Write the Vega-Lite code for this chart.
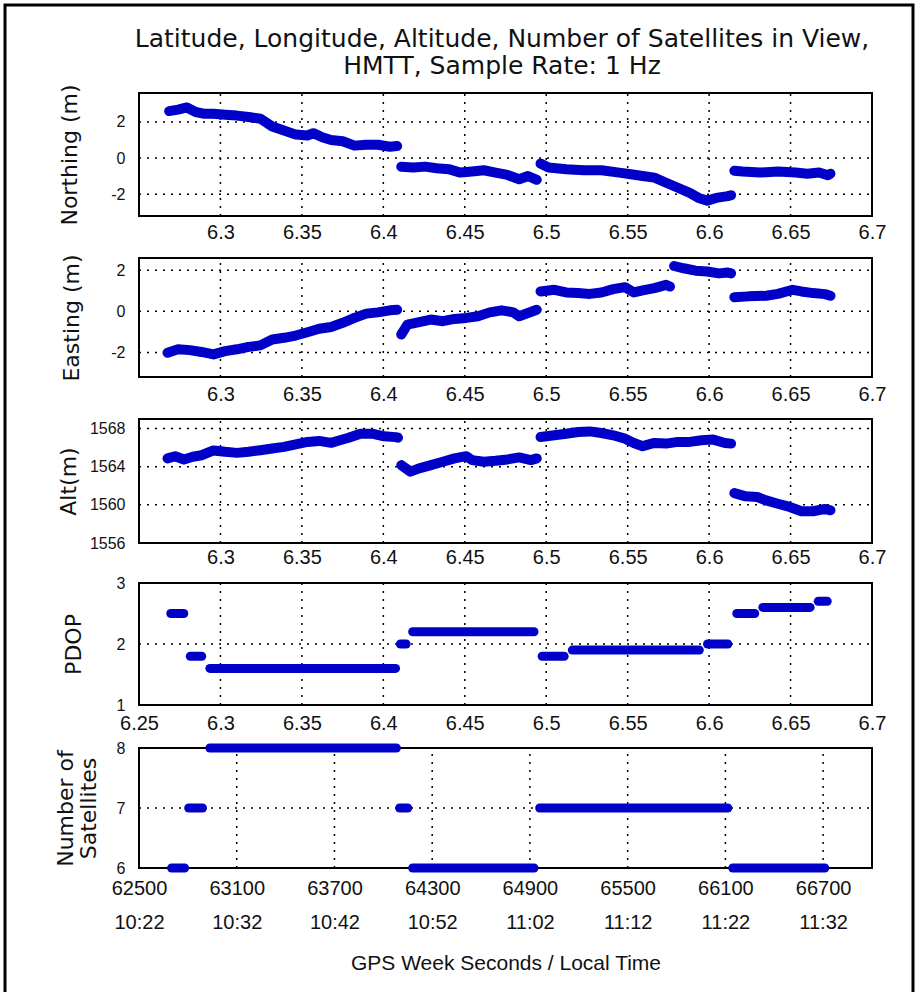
{
  "$schema": "https://vega.github.io/schema/vega-lite/v6.json",
  "width": 908,
  "height": 987,
  "padding": {"left": 5, "top": 5, "right": 6, "bottom": 0},
  "autosize": {"type": "none"},
  "background": "#ffffff",
  "title": {
    "text": ["Latitude, Longitude, Altitude, Number of Satellites in View,", "HMTT, Sample Rate: 1 Hz"],
    "orient": "top", "anchor": "middle", "frame": "group", "offset": -99, "baseline": "bottom", "dx": 43,
    "font": "DejaVu Sans", "fontSize": 25, "fontWeight": "normal", "color": "#111", "lineHeight": 27
  },
  "config": {
    "view": {"stroke": "#000", "strokeWidth": 3, "strokeDash": [1895, 908, 987]},
    "axis": {
      "ticks": false, "tickSize": 0, "domain": false, "grid": false,
      "labelFlush": false, "labelOverlap": false, "labelBound": false,
      "labelColor": "#111", "titleColor": "#111", "titleFontWeight": "normal"
    },
    "axisX": {"labelFont": "Liberation Sans", "labelFontSize": 20, "titleFont": "Liberation Sans", "titleFontSize": 21},
    "axisY": {"labelFont": "Liberation Sans", "labelFontSize": 16, "labelPadding": 14, "titleFont": "DejaVu Sans", "titleFontSize": 22, "titleBaseline": "alphabetic", "titleAlign": "center"}
  },
  "datasets": {
    "frames": [
      {"plot": "north", "t": 62500, "t2": 67000, "v": -3.2, "v2": 3.6},
      {"plot": "east", "t": 62500, "t2": 67000, "v": -3.2, "v2": 2.6},
      {"plot": "alt", "t": 62500, "t2": 67000, "v": 1556, "v2": 1569},
      {"plot": "pdop", "t": 62500, "t2": 67000, "v": 1, "v2": 3},
      {"plot": "sats", "t": 62500, "t2": 67000, "v": 6, "v2": 8}
    ],
    "vgrid": [
      {"plot": "north", "t": 63000, "v": -3.2, "v2": 3.6}, {"plot": "north", "t": 63500, "v": -3.2, "v2": 3.6},
      {"plot": "north", "t": 64000, "v": -3.2, "v2": 3.6}, {"plot": "north", "t": 64500, "v": -3.2, "v2": 3.6},
      {"plot": "north", "t": 65000, "v": -3.2, "v2": 3.6}, {"plot": "north", "t": 65500, "v": -3.2, "v2": 3.6},
      {"plot": "north", "t": 66000, "v": -3.2, "v2": 3.6}, {"plot": "north", "t": 66500, "v": -3.2, "v2": 3.6},
      {"plot": "east", "t": 63000, "v": -3.2, "v2": 2.6}, {"plot": "east", "t": 63500, "v": -3.2, "v2": 2.6},
      {"plot": "east", "t": 64000, "v": -3.2, "v2": 2.6}, {"plot": "east", "t": 64500, "v": -3.2, "v2": 2.6},
      {"plot": "east", "t": 65000, "v": -3.2, "v2": 2.6}, {"plot": "east", "t": 65500, "v": -3.2, "v2": 2.6},
      {"plot": "east", "t": 66000, "v": -3.2, "v2": 2.6}, {"plot": "east", "t": 66500, "v": -3.2, "v2": 2.6},
      {"plot": "alt", "t": 63000, "v": 1556, "v2": 1569}, {"plot": "alt", "t": 63500, "v": 1556, "v2": 1569},
      {"plot": "alt", "t": 64000, "v": 1556, "v2": 1569}, {"plot": "alt", "t": 64500, "v": 1556, "v2": 1569},
      {"plot": "alt", "t": 65000, "v": 1556, "v2": 1569}, {"plot": "alt", "t": 65500, "v": 1556, "v2": 1569},
      {"plot": "alt", "t": 66000, "v": 1556, "v2": 1569}, {"plot": "alt", "t": 66500, "v": 1556, "v2": 1569},
      {"plot": "pdop", "t": 63000, "v": 1, "v2": 3}, {"plot": "pdop", "t": 63500, "v": 1, "v2": 3},
      {"plot": "pdop", "t": 64000, "v": 1, "v2": 3}, {"plot": "pdop", "t": 64500, "v": 1, "v2": 3},
      {"plot": "pdop", "t": 65000, "v": 1, "v2": 3}, {"plot": "pdop", "t": 65500, "v": 1, "v2": 3},
      {"plot": "pdop", "t": 66000, "v": 1, "v2": 3}, {"plot": "pdop", "t": 66500, "v": 1, "v2": 3},
      {"plot": "sats", "t": 63100, "v": 6, "v2": 8}, {"plot": "sats", "t": 63700, "v": 6, "v2": 8},
      {"plot": "sats", "t": 64300, "v": 6, "v2": 8}, {"plot": "sats", "t": 64900, "v": 6, "v2": 8},
      {"plot": "sats", "t": 65500, "v": 6, "v2": 8}, {"plot": "sats", "t": 66100, "v": 6, "v2": 8},
      {"plot": "sats", "t": 66700, "v": 6, "v2": 8}
    ],
    "hgrid": [
      {"plot": "north", "t": 62500, "t2": 67000, "v": -2}, {"plot": "north", "t": 62500, "t2": 67000, "v": 0},
      {"plot": "north", "t": 62500, "t2": 67000, "v": 2},
      {"plot": "east", "t": 62500, "t2": 67000, "v": -2}, {"plot": "east", "t": 62500, "t2": 67000, "v": 0},
      {"plot": "east", "t": 62500, "t2": 67000, "v": 2},
      {"plot": "alt", "t": 62500, "t2": 67000, "v": 1560}, {"plot": "alt", "t": 62500, "t2": 67000, "v": 1564},
      {"plot": "alt", "t": 62500, "t2": 67000, "v": 1568},
      {"plot": "pdop", "t": 62500, "t2": 67000, "v": 2},
      {"plot": "sats", "t": 62500, "t2": 67000, "v": 7}
    ],
    "north": [
      {"seg": "A", "t": 62685, "v": 2.6}, {"seg": "A", "t": 62740, "v": 2.68}, {"seg": "A", "t": 62794, "v": 2.8},
      {"seg": "A", "t": 62848, "v": 2.55}, {"seg": "A", "t": 62903, "v": 2.45}, {"seg": "A", "t": 62957, "v": 2.45},
      {"seg": "A", "t": 63029, "v": 2.4}, {"seg": "A", "t": 63101, "v": 2.35}, {"seg": "A", "t": 63173, "v": 2.27},
      {"seg": "A", "t": 63245, "v": 2.18}, {"seg": "A", "t": 63318, "v": 1.75}, {"seg": "A", "t": 63390, "v": 1.53},
      {"seg": "A", "t": 63462, "v": 1.3}, {"seg": "A", "t": 63534, "v": 1.25}, {"seg": "A", "t": 63570, "v": 1.38},
      {"seg": "A", "t": 63625, "v": 1.15}, {"seg": "A", "t": 63679, "v": 1.0}, {"seg": "A", "t": 63751, "v": 0.93},
      {"seg": "A", "t": 63823, "v": 0.69}, {"seg": "A", "t": 63895, "v": 0.74}, {"seg": "A", "t": 63967, "v": 0.74},
      {"seg": "A", "t": 64040, "v": 0.63}, {"seg": "A", "t": 64085, "v": 0.67},
      {"seg": "B", "t": 64110, "v": -0.48}, {"seg": "B", "t": 64184, "v": -0.52}, {"seg": "B", "t": 64256, "v": -0.47},
      {"seg": "B", "t": 64328, "v": -0.56}, {"seg": "B", "t": 64401, "v": -0.61}, {"seg": "B", "t": 64473, "v": -0.8},
      {"seg": "B", "t": 64545, "v": -0.74}, {"seg": "B", "t": 64617, "v": -0.67}, {"seg": "B", "t": 64689, "v": -0.8},
      {"seg": "B", "t": 64762, "v": -0.93}, {"seg": "B", "t": 64834, "v": -1.17}, {"seg": "B", "t": 64888, "v": -0.99},
      {"seg": "B", "t": 64942, "v": -1.2},
      {"seg": "C", "t": 64965, "v": -0.3}, {"seg": "C", "t": 65014, "v": -0.52}, {"seg": "C", "t": 65123, "v": -0.61},
      {"seg": "C", "t": 65231, "v": -0.67}, {"seg": "C", "t": 65339, "v": -0.67}, {"seg": "C", "t": 65448, "v": -0.8},
      {"seg": "C", "t": 65520, "v": -0.89}, {"seg": "C", "t": 65592, "v": -0.99}, {"seg": "C", "t": 65664, "v": -1.08},
      {"seg": "C", "t": 65736, "v": -1.36}, {"seg": "C", "t": 65808, "v": -1.64}, {"seg": "C", "t": 65881, "v": -1.92},
      {"seg": "C", "t": 65935, "v": -2.2}, {"seg": "C", "t": 65989, "v": -2.35}, {"seg": "C", "t": 66043, "v": -2.2},
      {"seg": "C", "t": 66115, "v": -2.1}, {"seg": "C", "t": 66135, "v": -2.05},
      {"seg": "D", "t": 66155, "v": -0.7}, {"seg": "D", "t": 66206, "v": -0.74}, {"seg": "D", "t": 66314, "v": -0.8},
      {"seg": "D", "t": 66422, "v": -0.74}, {"seg": "D", "t": 66531, "v": -0.8}, {"seg": "D", "t": 66603, "v": -0.86},
      {"seg": "D", "t": 66675, "v": -0.8}, {"seg": "D", "t": 66729, "v": -0.95}, {"seg": "D", "t": 66745, "v": -0.86}
    ],
    "east": [
      {"seg": "A", "t": 62675, "v": -2.02}, {"seg": "A", "t": 62740, "v": -1.85}, {"seg": "A", "t": 62812, "v": -1.89},
      {"seg": "A", "t": 62884, "v": -1.98}, {"seg": "A", "t": 62957, "v": -2.1}, {"seg": "A", "t": 63029, "v": -1.94},
      {"seg": "A", "t": 63101, "v": -1.85}, {"seg": "A", "t": 63173, "v": -1.73}, {"seg": "A", "t": 63245, "v": -1.66},
      {"seg": "A", "t": 63318, "v": -1.37}, {"seg": "A", "t": 63390, "v": -1.29}, {"seg": "A", "t": 63462, "v": -1.18},
      {"seg": "A", "t": 63534, "v": -1.02}, {"seg": "A", "t": 63606, "v": -0.85}, {"seg": "A", "t": 63679, "v": -0.76},
      {"seg": "A", "t": 63751, "v": -0.56}, {"seg": "A", "t": 63823, "v": -0.32}, {"seg": "A", "t": 63895, "v": -0.11},
      {"seg": "A", "t": 63967, "v": -0.05}, {"seg": "A", "t": 64040, "v": 0.05}, {"seg": "A", "t": 64085, "v": 0.08},
      {"seg": "B", "t": 64110, "v": -1.13}, {"seg": "B", "t": 64148, "v": -0.65}, {"seg": "B", "t": 64220, "v": -0.53},
      {"seg": "B", "t": 64292, "v": -0.4}, {"seg": "B", "t": 64365, "v": -0.48}, {"seg": "B", "t": 64437, "v": -0.37},
      {"seg": "B", "t": 64509, "v": -0.32}, {"seg": "B", "t": 64581, "v": -0.24}, {"seg": "B", "t": 64653, "v": -0.05},
      {"seg": "B", "t": 64726, "v": 0.05}, {"seg": "B", "t": 64798, "v": -0.05}, {"seg": "B", "t": 64834, "v": -0.24},
      {"seg": "B", "t": 64888, "v": -0.08}, {"seg": "B", "t": 64942, "v": 0.08},
      {"seg": "C", "t": 64965, "v": 0.97}, {"seg": "C", "t": 65050, "v": 1.05}, {"seg": "C", "t": 65123, "v": 0.92},
      {"seg": "C", "t": 65195, "v": 0.89}, {"seg": "C", "t": 65267, "v": 0.85}, {"seg": "C", "t": 65339, "v": 0.92},
      {"seg": "C", "t": 65411, "v": 1.08}, {"seg": "C", "t": 65484, "v": 1.18}, {"seg": "C", "t": 65538, "v": 0.92},
      {"seg": "C", "t": 65592, "v": 1.02}, {"seg": "C", "t": 65664, "v": 1.13}, {"seg": "C", "t": 65736, "v": 1.29},
      {"seg": "C", "t": 65760, "v": 1.21},
      {"seg": "C2", "t": 65785, "v": 2.21}, {"seg": "C2", "t": 65844, "v": 2.1}, {"seg": "C2", "t": 65917, "v": 1.98},
      {"seg": "C2", "t": 65989, "v": 1.94}, {"seg": "C2", "t": 66061, "v": 1.85}, {"seg": "C2", "t": 66115, "v": 1.89},
      {"seg": "C2", "t": 66135, "v": 1.85},
      {"seg": "D", "t": 66155, "v": 0.69}, {"seg": "D", "t": 66242, "v": 0.73}, {"seg": "D", "t": 66350, "v": 0.76},
      {"seg": "D", "t": 66422, "v": 0.85}, {"seg": "D", "t": 66513, "v": 1.05}, {"seg": "D", "t": 66567, "v": 0.97},
      {"seg": "D", "t": 66639, "v": 0.89}, {"seg": "D", "t": 66711, "v": 0.84}, {"seg": "D", "t": 66745, "v": 0.76}
    ],
    "alt": [
      {"seg": "A", "t": 62675, "v": 1564.87}, {"seg": "A", "t": 62722, "v": 1565.1}, {"seg": "A", "t": 62776, "v": 1564.76},
      {"seg": "A", "t": 62830, "v": 1565.04}, {"seg": "A", "t": 62884, "v": 1565.2}, {"seg": "A", "t": 62957, "v": 1565.7},
      {"seg": "A", "t": 63029, "v": 1565.56}, {"seg": "A", "t": 63101, "v": 1565.45}, {"seg": "A", "t": 63173, "v": 1565.56},
      {"seg": "A", "t": 63245, "v": 1565.73}, {"seg": "A", "t": 63318, "v": 1565.9}, {"seg": "A", "t": 63390, "v": 1566.08},
      {"seg": "A", "t": 63462, "v": 1566.35}, {"seg": "A", "t": 63534, "v": 1566.6}, {"seg": "A", "t": 63606, "v": 1566.7},
      {"seg": "A", "t": 63679, "v": 1566.5}, {"seg": "A", "t": 63733, "v": 1566.77}, {"seg": "A", "t": 63787, "v": 1567.04},
      {"seg": "A", "t": 63859, "v": 1567.46}, {"seg": "A", "t": 63931, "v": 1567.46}, {"seg": "A", "t": 64004, "v": 1567.18},
      {"seg": "A", "t": 64076, "v": 1567.1}, {"seg": "A", "t": 64090, "v": 1567.04},
      {"seg": "B", "t": 64110, "v": 1564.17}, {"seg": "B", "t": 64166, "v": 1563.48}, {"seg": "B", "t": 64220, "v": 1563.83},
      {"seg": "B", "t": 64292, "v": 1564.17}, {"seg": "B", "t": 64365, "v": 1564.52}, {"seg": "B", "t": 64437, "v": 1564.87},
      {"seg": "B", "t": 64509, "v": 1565.1}, {"seg": "B", "t": 64545, "v": 1564.69}, {"seg": "B", "t": 64617, "v": 1564.52},
      {"seg": "B", "t": 64689, "v": 1564.62}, {"seg": "B", "t": 64762, "v": 1564.76}, {"seg": "B", "t": 64834, "v": 1564.97},
      {"seg": "B", "t": 64906, "v": 1564.69}, {"seg": "B", "t": 64942, "v": 1564.87},
      {"seg": "C", "t": 64965, "v": 1567.11}, {"seg": "C", "t": 65050, "v": 1567.29}, {"seg": "C", "t": 65123, "v": 1567.46},
      {"seg": "C", "t": 65195, "v": 1567.63}, {"seg": "C", "t": 65267, "v": 1567.7}, {"seg": "C", "t": 65339, "v": 1567.53},
      {"seg": "C", "t": 65411, "v": 1567.29}, {"seg": "C", "t": 65484, "v": 1566.94}, {"seg": "C", "t": 65538, "v": 1566.49},
      {"seg": "C", "t": 65592, "v": 1566.15}, {"seg": "C", "t": 65664, "v": 1566.49}, {"seg": "C", "t": 65736, "v": 1566.42},
      {"seg": "C", "t": 65808, "v": 1566.6}, {"seg": "C", "t": 65881, "v": 1566.6}, {"seg": "C", "t": 65953, "v": 1566.77},
      {"seg": "C", "t": 66025, "v": 1566.84}, {"seg": "C", "t": 66097, "v": 1566.49}, {"seg": "C", "t": 66135, "v": 1566.42},
      {"seg": "D", "t": 66155, "v": 1561.23}, {"seg": "D", "t": 66224, "v": 1560.89}, {"seg": "D", "t": 66296, "v": 1560.82},
      {"seg": "D", "t": 66350, "v": 1560.47}, {"seg": "D", "t": 66422, "v": 1560.12}, {"seg": "D", "t": 66495, "v": 1559.78},
      {"seg": "D", "t": 66567, "v": 1559.33}, {"seg": "D", "t": 66639, "v": 1559.33}, {"seg": "D", "t": 66711, "v": 1559.57},
      {"seg": "D", "t": 66745, "v": 1559.43}
    ],
    "pdop": [
      {"seg": "s1", "t": 62695, "v": 2.5}, {"seg": "s1", "t": 62775, "v": 2.5},
      {"seg": "s2", "t": 62815, "v": 1.8}, {"seg": "s2", "t": 62885, "v": 1.8},
      {"seg": "s3", "t": 62935, "v": 1.6}, {"seg": "s3", "t": 64075, "v": 1.6},
      {"seg": "s4", "t": 64105, "v": 2.0}, {"seg": "s4", "t": 64140, "v": 2.0},
      {"seg": "s5", "t": 64180, "v": 2.2}, {"seg": "s5", "t": 64925, "v": 2.2},
      {"seg": "s6", "t": 64975, "v": 1.8}, {"seg": "s6", "t": 65110, "v": 1.8},
      {"seg": "s7", "t": 65160, "v": 1.9}, {"seg": "s7", "t": 65940, "v": 1.9},
      {"seg": "s8", "t": 65990, "v": 2.0}, {"seg": "s8", "t": 66115, "v": 2.0},
      {"seg": "s9", "t": 66170, "v": 2.5}, {"seg": "s9", "t": 66280, "v": 2.5},
      {"seg": "s10", "t": 66330, "v": 2.6}, {"seg": "s10", "t": 66620, "v": 2.6},
      {"seg": "s11", "t": 66670, "v": 2.7}, {"seg": "s11", "t": 66725, "v": 2.7}
    ],
    "sats": [
      {"seg": "s1", "t": 62700, "v": 6}, {"seg": "s1", "t": 62780, "v": 6},
      {"seg": "s2", "t": 62805, "v": 7}, {"seg": "s2", "t": 62890, "v": 7},
      {"seg": "s3", "t": 62935, "v": 8}, {"seg": "s3", "t": 64080, "v": 8},
      {"seg": "s4", "t": 64100, "v": 7}, {"seg": "s4", "t": 64150, "v": 7},
      {"seg": "s5", "t": 64180, "v": 6}, {"seg": "s5", "t": 64925, "v": 6},
      {"seg": "s6", "t": 64960, "v": 7}, {"seg": "s6", "t": 66115, "v": 7},
      {"seg": "s7", "t": 66145, "v": 6}, {"seg": "s7", "t": 66710, "v": 6}
    ]
  },
  "resolve": {
    "scale": {"x": "independent", "y": "independent"},
    "axis": {"x": "independent", "y": "independent"}
  },
  "layer": [
    {
      "encoding": {
        "x": {"field": "t", "type": "quantitative",
          "scale": {"domain": [62500, 67000], "range": [134, 867], "nice": false, "zero": false},
          "axis": {"orient": "bottom", "offset": -776, "values": [63000, 63500, 64000, 64500, 65000, 65500, 66000, 66500, 67000],
            "labelExpr": "format(datum.value / 10000, '.2~f')", "title": null, "labelPadding": 6}},
        "y": {"field": "v", "type": "quantitative",
          "scale": {"domain": [-3.2, 3.6], "range": [211, 88], "nice": false, "zero": false},
          "axis": {"orient": "left", "offset": -134, "values": [-2, 0, 2], "labelExpr": "'' + round(datum.value)", "title": "Northing (m)", "titleX": -63}}
      },
      "layer": [
        {"data": {"name": "frames"}, "transform": [{"filter": "datum.plot === 'north'"}],
          "mark": {"type": "rect", "filled": false, "color": "#000", "strokeWidth": 2},
          "encoding": {"x2": {"field": "t2"}, "y2": {"field": "v2"}}},
        {"data": {"name": "vgrid"}, "transform": [{"filter": "datum.plot === 'north'"}],
          "mark": {"type": "rule", "color": "#000", "strokeWidth": 1.5, "strokeDash": [2, 6]},
          "encoding": {"y2": {"field": "v2"}}},
        {"data": {"name": "hgrid"}, "transform": [{"filter": "datum.plot === 'north'"}],
          "mark": {"type": "rule", "color": "#000", "strokeWidth": 1.5, "strokeDash": [2, 6]},
          "encoding": {"x2": {"field": "t2"}}},
        {"data": {"name": "north"},
          "mark": {"type": "line", "color": "#0000c8", "strokeWidth": 10, "strokeCap": "round", "strokeJoin": "round"},
          "encoding": {"detail": {"field": "seg", "type": "nominal"}}}
      ]
    },
    {
      "encoding": {
        "x": {"field": "t", "type": "quantitative",
          "scale": {"domain": [62500, 67000], "range": [134, 867], "nice": false, "zero": false},
          "axis": {"orient": "bottom", "offset": -615, "values": [63000, 63500, 64000, 64500, 65000, 65500, 66000, 66500, 67000],
            "labelExpr": "format(datum.value / 10000, '.2~f')", "title": null, "labelPadding": 7}},
        "y": {"field": "v", "type": "quantitative",
          "scale": {"domain": [-3.2, 2.6], "range": [372, 253], "nice": false, "zero": false},
          "axis": {"orient": "left", "offset": -134, "values": [-2, 0, 2], "labelExpr": "'' + round(datum.value)", "title": "Easting (m)", "titleX": -61}}
      },
      "layer": [
        {"data": {"name": "frames"}, "transform": [{"filter": "datum.plot === 'east'"}],
          "mark": {"type": "rect", "filled": false, "color": "#000", "strokeWidth": 2},
          "encoding": {"x2": {"field": "t2"}, "y2": {"field": "v2"}}},
        {"data": {"name": "vgrid"}, "transform": [{"filter": "datum.plot === 'east'"}],
          "mark": {"type": "rule", "color": "#000", "strokeWidth": 1.5, "strokeDash": [2, 6]},
          "encoding": {"y2": {"field": "v2"}}},
        {"data": {"name": "hgrid"}, "transform": [{"filter": "datum.plot === 'east'"}],
          "mark": {"type": "rule", "color": "#000", "strokeWidth": 1.5, "strokeDash": [2, 6]},
          "encoding": {"x2": {"field": "t2"}}},
        {"data": {"name": "east"},
          "mark": {"type": "line", "color": "#0000c8", "strokeWidth": 10, "strokeCap": "round", "strokeJoin": "round"},
          "encoding": {"detail": {"field": "seg", "type": "nominal"}}}
      ]
    },
    {
      "encoding": {
        "x": {"field": "t", "type": "quantitative",
          "scale": {"domain": [62500, 67000], "range": [134, 867], "nice": false, "zero": false},
          "axis": {"orient": "bottom", "offset": -449, "values": [63000, 63500, 64000, 64500, 65000, 65500, 66000, 66500, 67000],
            "labelExpr": "format(datum.value / 10000, '.2~f')", "title": null, "labelPadding": 4}},
        "y": {"field": "v", "type": "quantitative",
          "scale": {"domain": [1556, 1569], "range": [538, 414], "nice": false, "zero": false},
          "axis": {"orient": "left", "offset": -134, "values": [1556, 1560, 1564, 1568], "labelExpr": "'' + round(datum.value)", "title": "Alt(m)", "titleX": -64}}
      },
      "layer": [
        {"data": {"name": "frames"}, "transform": [{"filter": "datum.plot === 'alt'"}],
          "mark": {"type": "rect", "filled": false, "color": "#000", "strokeWidth": 2},
          "encoding": {"x2": {"field": "t2"}, "y2": {"field": "v2"}}},
        {"data": {"name": "vgrid"}, "transform": [{"filter": "datum.plot === 'alt'"}],
          "mark": {"type": "rule", "color": "#000", "strokeWidth": 1.5, "strokeDash": [2, 6]},
          "encoding": {"y2": {"field": "v2"}}},
        {"data": {"name": "hgrid"}, "transform": [{"filter": "datum.plot === 'alt'"}],
          "mark": {"type": "rule", "color": "#000", "strokeWidth": 1.5, "strokeDash": [2, 6]},
          "encoding": {"x2": {"field": "t2"}}},
        {"data": {"name": "alt"},
          "mark": {"type": "line", "color": "#0000c8", "strokeWidth": 10, "strokeCap": "round", "strokeJoin": "round"},
          "encoding": {"detail": {"field": "seg", "type": "nominal"}}}
      ]
    },
    {
      "encoding": {
        "x": {"field": "t", "type": "quantitative",
          "scale": {"domain": [62500, 67000], "range": [134, 867], "nice": false, "zero": false},
          "axis": {"orient": "bottom", "offset": -287, "values": [62500, 63000, 63500, 64000, 64500, 65000, 65500, 66000, 66500, 67000],
            "labelExpr": "format(datum.value / 10000, '.2~f')", "title": null, "labelPadding": 8}},
        "y": {"field": "v", "type": "quantitative",
          "scale": {"domain": [1, 3], "range": [700, 578], "nice": false, "zero": false},
          "axis": {"orient": "left", "offset": -134, "values": [1, 2, 3], "tickCount": 3, "labelExpr": "'' + round(datum.value)", "title": "PDOP", "titleX": -59}}
      },
      "layer": [
        {"data": {"name": "frames"}, "transform": [{"filter": "datum.plot === 'pdop'"}],
          "mark": {"type": "rect", "filled": false, "color": "#000", "strokeWidth": 2},
          "encoding": {"x2": {"field": "t2"}, "y2": {"field": "v2"}}},
        {"data": {"name": "vgrid"}, "transform": [{"filter": "datum.plot === 'pdop'"}],
          "mark": {"type": "rule", "color": "#000", "strokeWidth": 1.5, "strokeDash": [2, 6]},
          "encoding": {"y2": {"field": "v2"}}},
        {"data": {"name": "hgrid"}, "transform": [{"filter": "datum.plot === 'pdop'"}],
          "mark": {"type": "rule", "color": "#000", "strokeWidth": 1.5, "strokeDash": [2, 6]},
          "encoding": {"x2": {"field": "t2"}}},
        {"data": {"name": "pdop"},
          "mark": {"type": "line", "color": "#0000c8", "strokeWidth": 9, "strokeCap": "round", "strokeJoin": "round"},
          "encoding": {"detail": {"field": "seg", "type": "nominal"}}}
      ]
    },
    {
      "encoding": {
        "x": {"field": "t", "type": "quantitative",
          "scale": {"domain": [62500, 67000], "range": [134, 867], "nice": false, "zero": false},
          "axis": {"orient": "bottom", "offset": -124, "values": [62500, 63100, 63700, 64300, 64900, 65500, 66100, 66700],
            "labelExpr": "[format(datum.value, 'd'), ['10:22', '10:32', '10:42', '10:52', '11:02', '11:12', '11:22', '11:32'][round((datum.value - 62500) / 600)]]",
            "labelLineHeight": 34, "labelPadding": 10,
            "title": "GPS Week Seconds / Local Time", "titleY": 101, "titleBaseline": "alphabetic"}},
        "y": {"field": "v", "type": "quantitative",
          "scale": {"domain": [6, 8], "range": [863, 743], "nice": false, "zero": false},
          "axis": {"orient": "left", "offset": -134, "values": [6, 7, 8], "tickCount": 3, "labelExpr": "'' + round(datum.value)", "title": ["Number of", "Satellites"], "titleX": -67, "titleLineHeight": 23}}
      },
      "layer": [
        {"data": {"name": "frames"}, "transform": [{"filter": "datum.plot === 'sats'"}],
          "mark": {"type": "rect", "filled": false, "color": "#000", "strokeWidth": 2},
          "encoding": {"x2": {"field": "t2"}, "y2": {"field": "v2"}}},
        {"data": {"name": "vgrid"}, "transform": [{"filter": "datum.plot === 'sats'"}],
          "mark": {"type": "rule", "color": "#000", "strokeWidth": 1.5, "strokeDash": [2, 6]},
          "encoding": {"y2": {"field": "v2"}}},
        {"data": {"name": "hgrid"}, "transform": [{"filter": "datum.plot === 'sats'"}],
          "mark": {"type": "rule", "color": "#000", "strokeWidth": 1.5, "strokeDash": [2, 6]},
          "encoding": {"x2": {"field": "t2"}}},
        {"data": {"name": "sats"},
          "mark": {"type": "line", "color": "#0000c8", "strokeWidth": 9, "strokeCap": "round", "strokeJoin": "round"},
          "encoding": {"detail": {"field": "seg", "type": "nominal"}}}
      ]
    }
  ]
}
